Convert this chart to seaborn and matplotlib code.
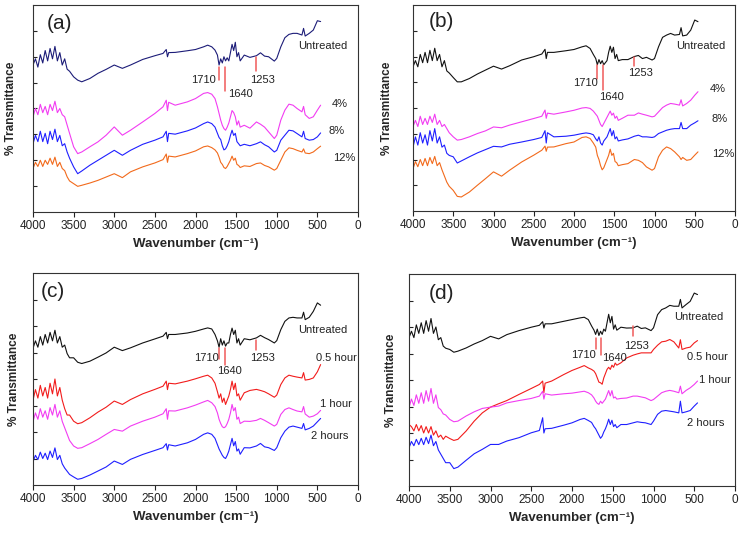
import numpy as np
import pandas as pd
import matplotlib
matplotlib.use("Agg")
import matplotlib.pyplot as plt
import seaborn as sns

# shared wavenumber grid (cm-1)
WN = [4000, 3970, 3940, 3910, 3880, 3850, 3820, 3790, 3760, 3730, 3700, 3670, 3640, 3610, 3580, 3550,
      3500, 3450, 3400, 3300, 3200, 3100, 3000, 2900, 2800, 2650, 2500, 2400, 2360, 2345, 2330, 2250, 2100, 2000, 1900, 1850, 1800,
      1760, 1730, 1710, 1690, 1670, 1650, 1630, 1610, 1590, 1570, 1550, 1530, 1510, 1490, 1470, 1450,
      1400, 1330, 1250, 1200, 1150, 1100, 1030, 1000, 950, 900, 850, 800, 750, 690, 670, 650, 600, 550, 500, 460]

# (a) concentration series
A_UNTREATED = [71, 74, 70, 76, 72, 78, 73, 79, 74, 80, 73, 77, 71, 74, 69, 68,
               65.3, 63.7, 62.9, 64.5, 67, 68.9, 71, 69.4, 71, 73.7, 75.5, 76.6, 78.5, 75, 77, 77.1, 77.9, 78.5, 79.8, 80.6, 79.8,
               78.2, 75.8, 71, 74, 72, 75, 73, 74.5, 73, 77, 81, 78, 82, 75, 77, 73,
               75.8, 74.7, 75.5, 76.9, 75.3, 75, 72.9, 74.2, 79.8, 84.2, 85.8, 86.3, 86.3, 85.5, 88.7, 85, 86.3, 87.9, 92.4, 92]
A_4 = [46, 50, 47, 52, 48, 51, 47, 52, 49, 53.5, 48, 50, 47, 46, 42, 38,
       31.5, 28.2, 29, 31.5, 33.9, 37.1, 41.1, 37.1, 39.5, 43.5, 47.6, 50.8, 54, 49, 53, 51.6, 53.2, 54.8, 57.3, 57.7, 56.9,
       54.8, 50.8, 47.6, 44.4, 41.9, 40.3, 39.5, 41, 43, 46, 49, 48, 46, 42, 44, 41,
       41.9, 40.5, 43.5, 42.4, 41, 38.7, 35.5, 37.1, 44.4, 49.2, 52.1, 51.6, 50, 48.4, 51, 47, 45.2, 46, 49.2, 51.6]
A_8 = [33, 37, 34, 39, 34, 38, 33, 39, 35, 40, 34, 37, 32, 33, 29, 26,
       21.8, 18.5, 19.8, 22.6, 25, 27.4, 29.8, 27.4, 29.8, 32.7, 34.7, 36.3, 39, 34, 38, 37.6, 39.2, 40.6, 42.7, 43.5, 42.7,
       41, 38, 36, 35, 32, 30, 30.5, 32, 34, 37, 39.5, 37, 38, 34, 33, 32,
       32.7, 32, 33, 33.9, 32.5, 31.5, 29, 29.8, 34.7, 37.1, 39.5, 39.2, 37.9, 36.3, 39, 35.5, 34.7, 35, 36.3, 38.2]
A_12 = [21, 24, 22, 25, 22, 25, 23, 26, 23, 26.5, 22, 24, 21, 20, 17, 15,
        13.7, 12.4, 12.9, 14, 15.3, 16.9, 18.5, 16.6, 19.4, 21.8, 23.7, 25.3, 28, 24, 27, 26.6, 28.2, 29.5, 31.5, 31.9, 31.1,
        30, 28.5, 26.5, 24, 23, 21.5, 21, 22, 23.5, 25, 27, 25, 26, 23, 22.5, 21.5,
        22.3, 22, 23.4, 23.7, 22.5, 21.8, 20.2, 21, 25, 29, 31, 30.6, 29.8, 29, 30.5, 28.5, 28.2, 29, 30.6, 31.8]

# (b) concentration series
B_UNTREATED = [70, 73, 70, 76, 72, 77, 72, 78, 73, 79, 73, 76, 70, 73, 68, 67,
               64.8, 62.7, 62.7, 64.3, 66.5, 68.4, 70.3, 68.9, 70.5, 73.3, 74.9, 76.2, 78.5, 74, 77, 77, 77.8, 78.4, 79.7, 80.2, 78.9,
               76, 74, 71, 73.5, 71.5, 73, 71, 72, 73, 77, 80, 77, 79.5, 74, 76, 73,
               73.5, 73.5, 75, 75.5, 74, 74.6, 73.3, 74, 79.7, 84.3, 85.4, 86.2, 85.4, 85.7, 89, 85, 85.4, 87.8, 92.7, 91.9]
B_4 = [41, 44, 41, 46, 42, 45, 42, 46, 43, 47, 42, 44, 41, 42, 40, 38,
       36, 34.4, 34.7, 36, 37.6, 38.9, 40.8, 40.4, 41.7, 43.3, 44.9, 46, 49, 45, 47.5, 47, 48.1, 48.9, 50, 50.2, 49.8,
       48.5, 47, 46, 44, 42, 41, 42.5, 44, 45.5, 47, 48.5, 46.5, 47.5, 45, 46, 44,
       45, 46.5, 46.5, 47.6, 47, 46.5, 45.7, 46, 48.1, 50.2, 51.4, 52.2, 51.9, 51.4, 54, 51, 52.2, 53.8, 56.2, 57.9]
B_8 = [31, 36, 32, 38, 33, 37, 32, 39, 34, 40, 33, 36, 31, 32, 28, 27,
       26.3, 23.3, 24.3, 26.3, 28.2, 29.8, 31.4, 31.1, 32.4, 33.5, 34.7, 35.7, 39, 33, 38, 36, 36.3, 36.8, 37.6, 37.9, 37.6,
       37, 35, 34, 36, 33, 32, 34, 35, 36, 38, 40, 36.5, 39, 35, 36, 34,
       34.5, 35, 36.3, 36.8, 36, 36, 35.7, 36, 37.6, 38.4, 39.2, 39.7, 40, 40, 43, 40, 40, 41.7, 42.8, 43.8]
B_12 = [20.5, 24, 21.5, 25, 22, 25.5, 22, 26, 23, 26.5, 22, 23.5, 20, 17, 14, 12,
        10, 7.1, 6.8, 9.2, 12.5, 15.7, 19, 16.9, 19.8, 23.8, 27.1, 29.5, 31.5, 29, 31, 31.1, 32.7, 33.5, 35.7, 36, 35.2,
        33, 31, 27, 25, 22, 20, 21, 23, 25, 27, 30, 27, 28, 24, 23.5, 22,
        22.5, 23, 25, 24.6, 23.5, 21.4, 19.8, 20.6, 26.3, 29.5, 31.1, 30.3, 28.7, 26.3, 25, 26, 24.6, 25, 27.1, 28.7]

# (c) time series
C_UNTREATED = [64.5, 68, 65, 70, 66, 71, 67, 72, 68, 73, 67, 70, 65, 66, 62, 60,
               60, 57.9, 57.3, 58.4, 60.3, 62.3, 65, 63.4, 64.7, 67, 68.9, 70.2, 72, 69, 71, 71, 71.7, 72.5, 73.6, 74.1, 73.6,
               71, 68, 65, 69, 66, 68, 65.5, 67, 67, 71, 74, 71, 73, 67, 69, 66,
               69, 68.5, 69.4, 70.6, 69.5, 68.6, 67, 68.1, 73.3, 77.2, 78.8, 79.1, 78.8, 78.8, 81.5, 78, 79.1, 81.9, 85.9, 84.8]
C_05 = [40, 45, 41, 47, 42, 46, 41, 48, 43, 50, 42, 46, 40, 36, 33, 33,
        30.1, 28.9, 29.4, 31.7, 34.4, 36.7, 39.6, 38, 40.3, 43, 45.1, 46.6, 49, 45, 48, 47.7, 49, 50.1, 51.3, 51.8, 50.5,
        48, 44, 41, 43, 39, 41, 38, 40, 42, 45, 49, 45, 48, 42, 43, 40,
        43.5, 44.6, 45.1, 44.6, 44, 43, 41.4, 42.4, 47.4, 50.5, 51.8, 51.3, 50.9, 50.5, 53, 49.5, 49.8, 50.5, 53.4, 56.8]
C_1 = [30, 34, 31, 36, 32, 35, 31, 36.5, 33, 38, 32, 35, 30, 27, 24, 21,
       18.4, 17.3, 17.6, 19.5, 21.5, 23.9, 26.2, 25.4, 27.8, 30.1, 32, 33.6, 36, 31, 35, 34.9, 36.4, 37.7, 39.2, 39.9, 38.8,
       37, 34, 31, 29, 27.5, 27, 27.5, 29, 31, 34, 38, 35, 36.5, 31, 32, 29,
       30.1, 30, 30.5, 31.4, 30.5, 29.4, 27.8, 28.6, 33.3, 35.6, 36.4, 35.6, 34.9, 34.5, 37, 33.5, 32, 32.5, 33.6, 35.2]
C_2 = [11, 14, 12, 15.5, 12.5, 15, 12, 16, 13, 17.5, 12, 14, 10, 8, 6.5, 5,
       3.8, 2.7, 3.1, 4.7, 6.6, 8.5, 11.3, 9.7, 12.1, 14.4, 16.3, 17.6, 19.5, 16.5, 19, 18.4, 19.9, 21.5, 23.9, 24.6, 23.9,
       22, 19, 17, 15.5, 14, 13, 12.5, 14, 16, 19, 22, 18.5, 20.5, 16, 17, 14.5,
       17.6, 17.5, 18.4, 19.6, 18, 17.6, 16.3, 17.6, 22.3, 25.4, 27.3, 27.8, 27.3, 26.7, 29, 26, 26.7, 27.8, 29.8, 31.4]

# (d) time series
D_UNTREATED = [70, 73, 70, 76, 72, 77, 72, 78, 73, 79, 72, 75, 69, 70, 66, 65,
               64.4, 63.1, 63.6, 65.1, 67, 68.6, 70.6, 69.4, 71.4, 73.3, 74.9, 75.8, 77.5, 74.5, 76.5, 76.5, 77.7, 78.5, 79.3, 79.6, 78.5,
               75.5, 73.5, 71.5, 74, 71, 73, 71.5, 74, 73, 77, 81, 77, 80, 74, 76, 73.5,
               74.9, 74.5, 74.6, 75.4, 74.3, 74.6, 73.3, 74.6, 80.8, 83.2, 84, 85.2, 84.8, 84.8, 88, 84, 85.6, 87.1, 91, 90.3]
D_05 = [29, 28, 26, 29, 26, 28.5, 25, 28, 25, 28, 24, 26, 23, 24, 22, 23.5,
        22.4, 21.5, 22, 25.9, 30.6, 34.5, 37.2, 38.8, 40.3, 43.2, 46, 47.9, 49.5, 44, 48.5, 49.5, 52.6, 54.5, 56, 56.8, 55.7,
        55, 54.2, 53, 51, 49, 48.7, 48, 51, 53, 55, 56, 55, 57, 56, 58, 57,
        58.1, 60.4, 61.7, 62.3, 62.8, 62.8, 62.8, 64.4, 66.4, 68, 68.3, 69.1, 68, 65.1, 69, 64.4, 65.1, 65.5, 67.5, 68.6]
D_1 = [37, 41, 38, 43, 39, 44, 39, 45, 40, 46, 39, 43, 37, 36, 34, 33.5,
       31.4, 30.3, 30.6, 33, 35, 36.6, 37.2, 37.7, 39.2, 40.3, 41.3, 42.4, 44.7, 41, 43.5, 42.9, 43.5, 43.8, 44.4, 44.7, 44,
       43, 41.5, 40, 39, 38.5, 40, 39, 40, 41, 43, 45, 42.5, 45, 41.5, 42, 41,
       41.3, 41.5, 42.4, 42.4, 42, 41.6, 40.3, 40.8, 42.4, 44, 44.7, 45.1, 44.7, 44, 47.1, 43.5, 45.1, 46.3, 47.9, 49.5]
D_2 = [18, 21, 19, 22, 19.5, 22.5, 19.5, 23, 20, 24, 19, 21, 17, 15, 13, 11,
       11, 8.2, 8.9, 12.1, 15.2, 17.3, 19.6, 19.6, 21.2, 22.8, 25.1, 26.2, 32.2, 25, 27, 27.2, 28.7, 29.8, 31.4, 31.9, 30.9,
       30, 28, 27, 25.5, 24, 22.5, 23.5, 25.5, 27, 29, 31.5, 29, 31, 28, 29, 27.5,
       29, 29, 29.8, 30.3, 30, 29.8, 29, 30.6, 33.8, 35.3, 35.6, 35.3, 35, 34.5, 40, 34.5, 35, 35.6, 37.7, 39.2]

CONC_NAMES = ["Untreated", "4%", "8%", "12%"]
TIME_NAMES = ["Untreated", "0.5 hour", "1 hour", "2 hours"]
PEAKS = [1710, 1640, 1253]

sns.set_style("ticks")
plt.rcParams["font.family"] = ["Liberation Sans", "DejaVu Sans"]

fig = plt.figure(figsize=(7.4, 5.36), dpi=100)
W, H = 740, 536

panels = [
    dict(tag="(a)", box=(33, 5, 358, 212), curves=[A_UNTREATED, A_4, A_8, A_12], names=CONC_NAMES,
         colors=["#1c1c78", "#f23cf2", "#1f1fff", "#f26a1c"],
         label_xy=[(431, 80.3), (226, 52.4), (258, 39), (164, 26.3)],
         spans=[(63.7, 70), (58.5, 70), (68, 74.7)],
         peak_xy=[(1908, 63.7), (1448, 57), (1169, 64)], tag_xy=(3672, 91), ylab_x=-0.048),
    dict(tag="(b)", box=(413, 5, 735, 211), curves=[B_UNTREATED, B_4, B_8, B_12], names=CONC_NAMES,
         colors=["#111111", "#f23cf2", "#1f1fff", "#f26a1c"],
         label_xy=[(421, 80.2), (217, 59), (188, 44.9), (150, 27.6)],
         spans=[(64.3, 70.8), (58.7, 70.8), (70.3, 74.6)],
         peak_xy=[(1852, 61.9), (1538, 55.4), (1170, 66.8)], tag_xy=(3652, 91.9), ylab_x=-0.061),
    dict(tag="(c)", box=(33, 273, 358, 485), curves=[C_UNTREATED, C_05, C_1, C_2], names=TIME_NAMES,
         colors=["#111111", "#f21c1c", "#f23cf2", "#1f1fff"],
         label_xy=[(431, 73.3), (267, 60), (267, 38), (349, 23.1)],
         spans=[(59.2, 64.7), (56.8, 64.7), (63.9, 68.6)],
         peak_xy=[(1867, 59.7), (1580, 53.7), (1169, 60)], tag_xy=(3754, 91.4), ylab_x=-0.04),
    dict(tag="(d)", box=(409, 274, 735, 486), curves=[D_UNTREATED, D_05, D_1, D_2], names=TIME_NAMES,
         colors=["#111111", "#f21c1c", "#f23cf2", "#1f1fff"],
         label_xy=[(446, 79.6), (344, 60.8), (243, 49.8), (365, 29.8)],
         spans=[(64.4, 69.9), (61.7, 69.9), (70.6, 75.4)],
         peak_xy=[(1864, 61.7), (1479, 60.4), (1203, 65.9)], tag_xy=(3607, 91), ylab_x=-0.036),
]

for p in panels:
    x0, y0, x1, y1 = p["box"]
    ax = fig.add_axes([x0 / W, 1 - y1 / H, (x1 - x0) / W, (y1 - y0) / H])

    df = pd.DataFrame({
        "wn": WN * len(p["curves"]),
        "T": sum(p["curves"], []),
        "sample": np.repeat(p["names"], len(WN)),
    })
    sns.lineplot(data=df, x="wn", y="T", hue="sample", hue_order=p["names"],
                 palette=dict(zip(p["names"], p["colors"])), estimator=None, sort=False,
                 lw=0.8, legend=False, ax=ax)

    # peak markers
    for wn, (lo, hi), (tx, ty) in zip(PEAKS, p["spans"], p["peak_xy"]):
        ax.plot([wn, wn], [lo, hi], color="#f05a5a", lw=1.1)
        ax.text(tx, ty, str(wn), ha="center", va="center", fontsize=8, color="#222222")

    for name, (tx, ty) in zip(p["names"], p["label_xy"]):
        ax.text(tx, ty, name, ha="center", va="center", fontsize=8, color="#222222")

    ax.text(*p["tag_xy"], p["tag"], ha="center", va="center", fontsize=15, color="#222222")

    ax.set_xlim(4000, 0)
    ax.set_ylim(0, 100)
    ax.set_xticks(range(4000, -1, -500))
    ax.set_yticks([12.5, 25, 37.5, 50, 62.5, 75, 87.5])
    ax.set_yticklabels([])
    ax.tick_params(axis="x", direction="out", length=3.5, width=0.8, labelsize=8.5,
                   colors="#222222", pad=2.5)
    ax.tick_params(axis="y", direction="in", length=3, width=0.8)
    for s in ax.spines.values():
        s.set_linewidth(0.8)
        s.set_color("#333333")
    ax.set_xlabel("Wavenumber (cm⁻¹)", fontsize=9.5, fontweight="bold", labelpad=4)
    ax.set_ylabel("% Transmittance", fontsize=8.5, fontweight="bold")
    ax.yaxis.set_label_coords(p["ylab_x"], 0.5)

fig.savefig("out.png", dpi=100)
